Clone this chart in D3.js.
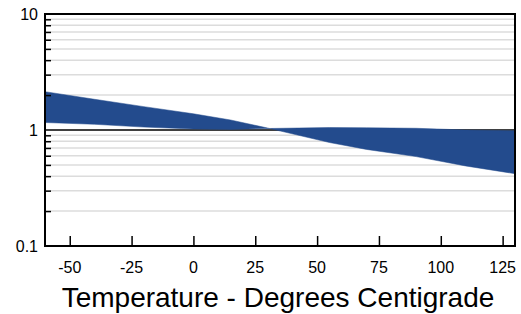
<!DOCTYPE html>
<html>
<head>
<meta charset="utf-8">
<script src="https://cdn.jsdelivr.net/npm/d3@7"></script>
<style>
  html, body { margin: 0; padding: 0; background: #fff; }
  svg { display: block; font-family: "Liberation Sans", Arial, sans-serif; }
</style>
</head>
<body>
<svg id="chart" width="521" height="314"></svg>
<script>
// Data
const temperatures = [-60, -40, -20, 0, 15, 30, 55, 70, 90, 110, 130];
const upperLeftSeries = [2.14, 1.84, 1.59, 1.38, 1.22, 1.04, 0.78, 0.68, 0.59, 0.49, 0.42];
const lowerLeftSeries = [1.16, 1.12, 1.06, 1.02, 1.01, 1.03, 1.05, 1.045, 1.035, 1.0, 0.985];
const xTickValues = [-50, -25, 0, 25, 50, 75, 100, 125];
const yLabelValues = [0.1, 1, 10];
const xTitle = "Temperature - Degrees Centigrade";

const svg = d3.select("#chart");
const margin = { left: 45, right: 6, top: 14, bottom: 68 };
const W = 521, H = 314;
const x = d3.scaleLinear().domain([-60, 130]).range([margin.left, W - margin.right]);
const y = d3.scaleLog().domain([0.1, 10]).range([H - margin.bottom, margin.top]);

// minor grid values
const gridValues = [];
[0.1, 1].forEach(d => { for (let k = 2; k <= 9; k++) gridValues.push(+(d * k).toFixed(3)); });

svg.append("g").selectAll("line").data(gridValues).join("line")
  .attr("x1", x(-60)).attr("x2", x(130))
  .attr("y1", d => y(d)).attr("y2", d => y(d))
  .attr("stroke", "#dcdcdc").attr("stroke-width", 1.5);

// unity line
svg.append("line")
  .attr("x1", x(-60)).attr("x2", x(130))
  .attr("y1", y(1)).attr("y2", y(1))
  .attr("stroke", "#000").attr("stroke-width", 1.5);

// band
const band = temperatures.map((t, i) => ({ t, a: upperLeftSeries[i], b: lowerLeftSeries[i] }));
const area = d3.area()
  .x(d => x(d.t))
  .y0(d => y(d.b))
  .y1(d => y(d.a));
svg.append("path").datum(band).attr("d", area)
  .attr("fill", "#234b8d").attr("stroke", "#234b8d").attr("stroke-width", 0.5);

// left axis minor ticks (inside)
const yAxis = d3.axisLeft(y).tickValues(gridValues).tickSize(-6).tickFormat("");
const gy = svg.append("g").attr("transform", `translate(${x(-60)},0)`).call(yAxis);
gy.select(".domain").remove();
gy.selectAll("line").attr("stroke", "#000").attr("stroke-width", 1.5);

// bottom ticks (inside)
const xAxis = d3.axisBottom(x).tickValues(xTickValues).tickSize(-10).tickFormat("");
const gx = svg.append("g").attr("transform", `translate(0,${y(0.1)})`).call(xAxis);
gx.select(".domain").remove();
gx.selectAll("line").attr("stroke", "#000").attr("stroke-width", 1.5);

// frame
svg.append("rect")
  .attr("x", x(-60)).attr("y", y(10))
  .attr("width", x(130) - x(-60)).attr("height", y(0.1) - y(10))
  .attr("fill", "none").attr("stroke", "#000").attr("stroke-width", 2);

// y labels
svg.append("g").selectAll("text").data(yLabelValues).join("text")
  .attr("x", x(-60) - 7).attr("y", d => y(d) + 2)
  .attr("text-anchor", "end").attr("dominant-baseline", "middle")
  .attr("font-size", 16).attr("fill", "#000")
  .text(d => d3.format("")(d));

// x labels
svg.append("g").selectAll("text").data(xTickValues).join("text")
  .attr("x", d => x(d)).attr("y", y(0.1) + 27)
  .attr("text-anchor", "middle")
  .attr("font-size", 16).attr("fill", "#000")
  .text(d => d);

// x title
svg.append("text")
  .attr("x", 278).attr("y", 307)
  .attr("text-anchor", "middle")
  .attr("font-size", 28).attr("fill", "#000")
  .text(xTitle);
</script>
</body>
</html>
